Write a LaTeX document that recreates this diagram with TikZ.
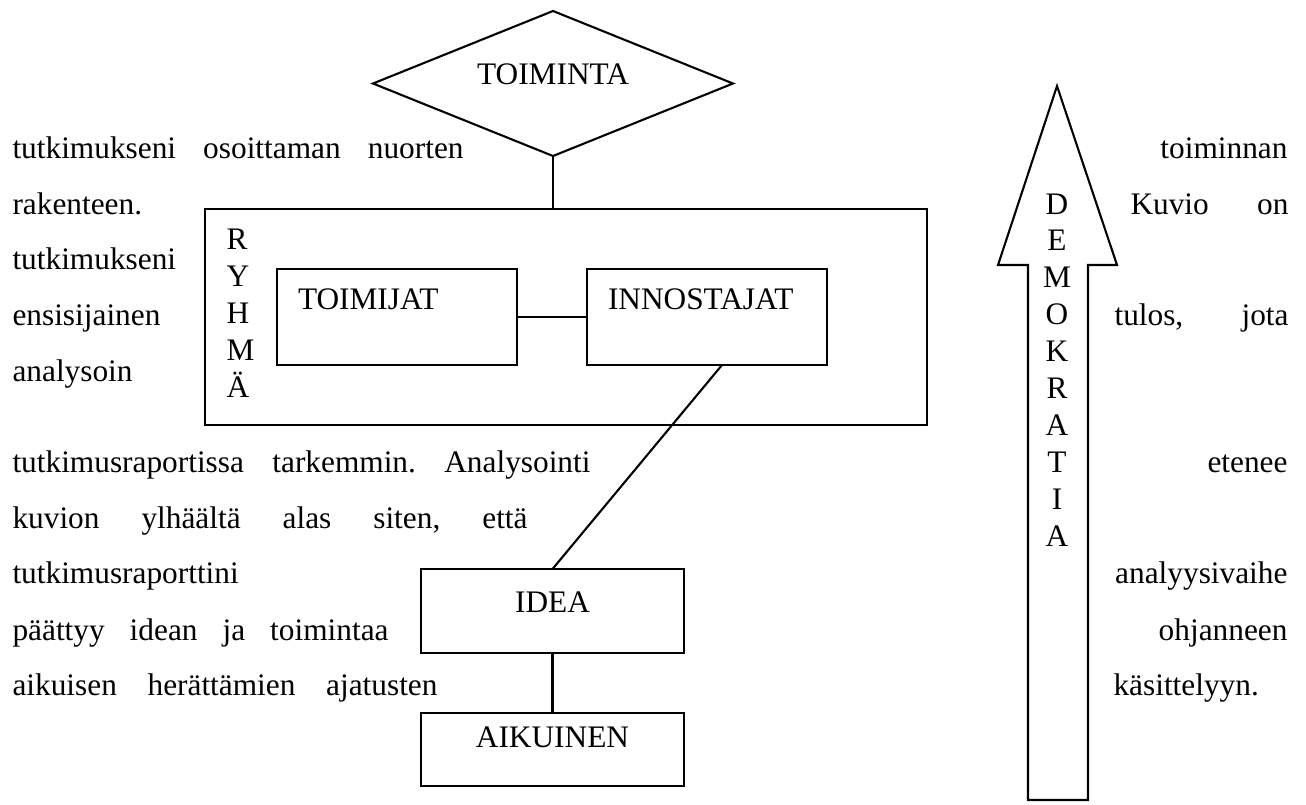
\documentclass[tikz,border=0pt]{standalone}
\usepackage{fontspec}
\setmainfont{Liberation Serif}
\usetikzlibrary{shapes.geometric,calc}

\newdimen\px \px=0.383pt

\tikzset{
  kehys/.style={draw, thick, inner sep=0pt, outer sep=0pt},
  toimija/.style={kehys, minimum width=240\px, minimum height=96\px,
    text width=198\px, align=left, text depth=35\px},
  alalaatikko/.style={kehys, minimum width=263\px},
  sana/.style={anchor=base west, inner sep=0pt},
  oikea/.style={anchor=base east, inner sep=0pt},
  kirjain/.style={anchor=base, inner sep=0pt}
}

\begin{document}
\begin{tikzpicture}[x=0.383pt, y=-0.383pt, font=\fontsize{12}{14}\selectfont]
        \useasboundingbox (0,0) rectangle (1306,804);

        % kuvion laatikot
        \node[kehys, diamond, aspect=2.48, minimum width=360\px, minimum height=145\px, text depth=18\px] (toiminta) at (553,83.5) {TOIMINTA};
        \node[kehys, minimum width=722\px, minimum height=216\px] (ryhma) at (566,317) {};
        \node[toimija] (toimijat) at (397,317) {TOIMIJAT};
        \node[toimija] (innostajat) at (707,317) {INNOSTAJAT};
        \node[alalaatikko, minimum height=84\px, text depth=17\px] (idea) at (552.5,611) {IDEA};
        \node[alalaatikko, minimum height=73\px, text depth=24\px] (aikuinen) at (552.5,749.5) {AIKUINEN};

        \foreach \k [count=\i from 0] in {R,Y,H,M,Ä}
          \node[sana] (ryh\i) at (226,{249+37.2*\i}) {\k};

        % yhteydet
        \draw[thick] (toiminta.south) -- (toiminta.south |- ryhma.north);
        \draw[thick] (toimijat) -- (innostajat);
        \draw[thick] ($(innostajat.south)+(15,0)$) -- (idea.north);
        \draw[thick] (idea) -- (aikuinen);

        % demokratia-nuoli
        \draw[thick] (1028,800) -- (1028,265) -- (998,265) -- (1057,86)
          -- (1117,265) -- (1088,265) -- (1088,800) -- cycle;
        \foreach \k [count=\i from 0] in {D,E,M,O,K,R,A,T,I,A}
          \node[kirjain] (dem\i) at (1057,{214+36.9*\i}) {\k};

        % leipateksti kuvion ympari
        \node[sana] (r1v) at (12,158) {\hbox to 451\px{tutkimukseni\hfill osoittaman\hfill nuorten}};
        \node[oikea] (r1o) at (1288,158) {toiminnan};
        \node[sana] (r2v) at (12,214) {rakenteen.};
        \node[sana] (r2o) at (1130,214) {\hbox to 158\px{Kuvio\hfill on}};
        \node[sana] (r3v) at (12,269) {tutkimukseni};
        \node[sana] (r4v) at (12,325) {ensisijainen};
        \node[sana] (r4o) at (1114,325) {\hbox to 174\px{tulos,\hfill jota}};
        \node[sana] (r5v) at (12,381) {analysoin};
        \node[sana] (r6v) at (12,472) {\hbox to 578\px{tutkimusraportissa\hfill tarkemmin.\hfill Analysointi}};
        \node[oikea] (r6o) at (1288,472) {etenee};
        \node[sana] (r7v) at (12,528) {\hbox to 515\px{kuvion\hfill ylhäältä\hfill alas\hfill siten,\hfill että}};
        \node[sana] (r8v) at (12,583) {tutkimusraporttini};
        \node[oikea] (r8o) at (1288,583) {analyysivaihe};
        \node[sana] (r9v) at (12,640) {\hbox to 376\px{päättyy\hfill idean\hfill ja\hfill toimintaa}};
        \node[oikea] (r9o) at (1288,640) {ohjanneen};
        \node[sana] (r10v) at (12,695) {\hbox to 425\px{aikuisen\hfill herättämien\hfill ajatusten}};
        \node[sana] (r10o) at (1113,695) {käsittelyyn.};
    \end{tikzpicture}
\end{document}
